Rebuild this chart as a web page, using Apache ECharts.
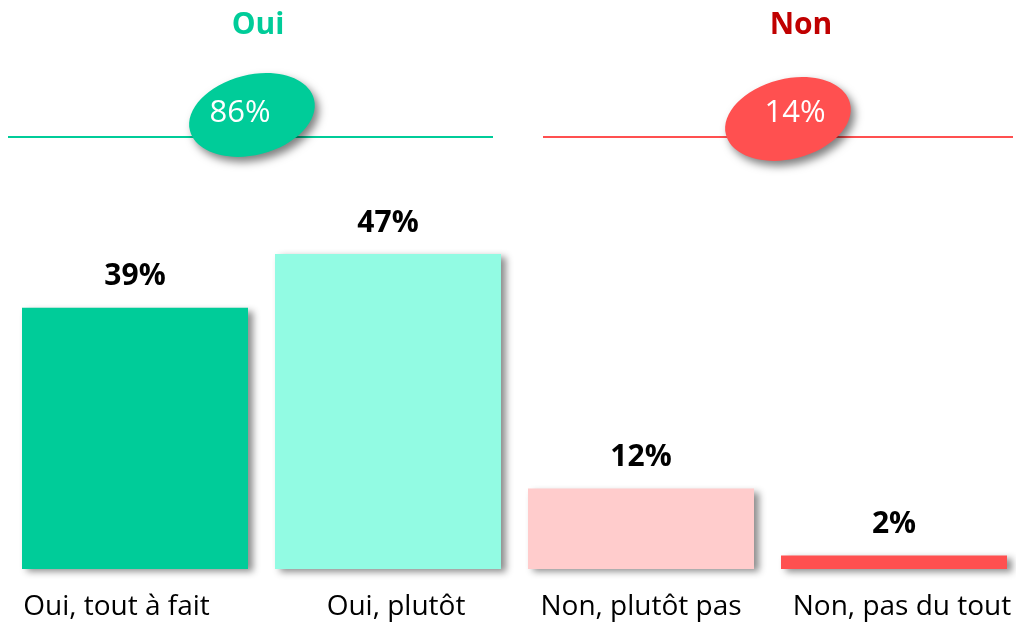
<!DOCTYPE html>
<html>
<head>
<meta charset="utf-8">
<script src="https://cdn.jsdelivr.net/npm/echarts@6/dist/echarts.min.js"></script>
<style>
  html, body { margin: 0; padding: 0; background: #fff; }
  #main { width: 1016px; height: 622px; }
</style>
</head>
<body>
<div id="main"></div>
<script>
var categories = ['Oui, tout à fait', 'Oui, plutôt', 'Non, plutôt pas', 'Non, pas du tout'];
var values = [39, 47, 12, 2];
var barColors = ['#00CC99', '#92FBE3', '#FFCCCC', '#FF5050'];
var groupTitles = ['Oui', 'Non'];
var groupTotals = ['86%', '14%'];
var groupColors = ['#00CC99', '#FF5050'];
var titleColors = ['#00CC99', '#C00000'];

// small horizontal nudges of the category labels (as in the original slide)
var labelPad = [[0, 37, 0, 0], [0, 0, 0, 16], [0, 0, 0, 0], [0, 0, 0, 16]];

var myChart = echarts.init(document.getElementById('main'));
var font = '"Open Sans", Lato, sans-serif';

var barData = values.map(function (v, i) {
    return { value: v, itemStyle: { color: barColors[i] } };
});
var catData = categories.map(function (c, i) {
    return { value: c, textStyle: { padding: labelPad[i] } };
});

function header(i, cx, cy, lineX1, lineX2, textX, titleX) {
    return [
        {
            type: 'line', z: 1,
            shape: { x1: lineX1, y1: 137, x2: lineX2, y2: 137 },
            style: { stroke: groupColors[i], lineWidth: 2 }
        },
        {
            type: 'ellipse', z: 2,
            x: cx, y: cy, rotation: 0.25,
            shape: { cx: 0, cy: 0, rx: 64, ry: 40 },
            style: {
                fill: groupColors[i],
                shadowBlur: 8, shadowOffsetX: 4, shadowOffsetY: 5,
                shadowColor: 'rgba(0,0,0,0.5)'
            }
        },
        {
            type: 'text', z: 3,
            x: textX, y: 113,
            style: {
                text: groupTotals[i], fill: '#fff', font: '31px ' + font,
                align: 'center', verticalAlign: 'middle'
            }
        },
        {
            type: 'text', z: 3,
            x: titleX, y: 25,
            style: {
                text: groupTitles[i], fill: titleColors[i], font: 'bold 30px ' + font,
                align: 'center', verticalAlign: 'middle'
            }
        }
    ];
}

var option = {
    animation: false,
    grid: { left: 8.5, width: 1012, top: 234, bottom: 53, outerBoundsMode: 'none' },
    xAxis: {
        type: 'category',
        data: catData,
        axisLine: { show: false },
        axisTick: { show: false },
        axisLabel: {
            color: '#000', fontSize: 28, fontFamily: font, margin: 24, interval: 0
        }
    },
    yAxis: {
        type: 'value', min: 0, max: 50,
        show: false,
        splitLine: { show: false }
    },
    series: [{
        type: 'bar',
        data: barData,
        barWidth: 226,
        itemStyle: {
            shadowBlur: 7, shadowOffsetX: 5, shadowOffsetY: 3,
            shadowColor: 'rgba(0,0,0,0.45)'
        },
        label: {
            show: true, position: 'top', distance: 16,
            formatter: '{c}%', color: '#000',
            fontSize: 30, fontWeight: 'bold', fontFamily: font
        }
    }],
    graphic: header(0, 252, 115, 8, 493, 240, 258).concat(header(1, 788, 119, 543, 1013, 795, 801))
};
myChart.setOption(option);
</script>
</body>
</html>
